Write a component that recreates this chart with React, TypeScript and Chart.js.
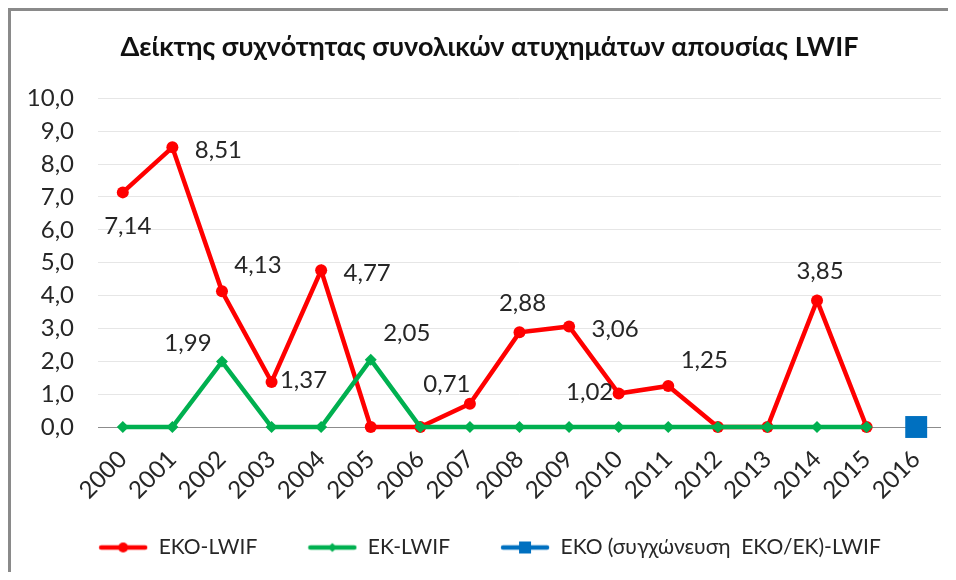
import React, { useEffect, useRef } from "react";
import { Chart, registerables } from "chart.js";

Chart.register(...registerables);

const titleText = "Δείκτης συχνότητας συνολικών ατυχημάτων απουσίας LWIF";
const years = ["2000", "2001", "2002", "2003", "2004", "2005", "2006", "2007", "2008", "2009", "2010", "2011", "2012", "2013", "2014", "2015", "2016"];
const ekoLwif = [7.14, 8.51, 4.13, 1.37, 4.77, 0, 0, 0.71, 2.88, 3.06, 1.02, 1.25, 0, 0, 3.85, 0, null];
const ekLwif = [0, 0, 1.99, 0, 0, 2.05, 0, 0, 0, 0, 0, 0, 0, 0, 0, 0, null];
const ekoMergedLwif = [null, null, null, null, null, null, null, null, null, null, null, null, null, null, null, null, 0];
const seriesNames = ["ΕΚΟ-LWIF", "ΕΚ-LWIF", "ΕΚΟ (συγχώνευση  ΕΚΟ/ΕΚ)-LWIF"];
const yTicks = [0, 1, 2, 3, 4, 5, 6, 7, 8, 9, 10];

// label placement presets per point (null = no label)
const redLabelPos = ["below", "right", "upRight", "nearRight", "right", null, null, "upLeft", "up", "right", "left", "upRight", null, null, "up", null, null];
const greenLabelPos = [null, null, "upLeftFar", null, null, "upRight", null, null, null, null, null, null, null, null, null, null, null];

const placeOffsets: Record<string, [number, number]> = {
  below: [5, 34],
  right: [46, 3],
  nearRight: [32, -2],
  upRight: [36, -26],
  upLeft: [-23, -19],
  upLeftFar: [-34, -18],
  up: [3, -29],
  left: [-29, -1],
};

const RED = "#FF0000";
const GREEN = "#00B050";
const BLUE = "#0070C0";
const FONT = "Lato";
const TEXT = "#262626";

function makeLegendIcon(color: string, kind: string): HTMLCanvasElement {
  const c = document.createElement("canvas");
  c.width = 50;
  c.height = 18;
  const ctx = c.getContext("2d")!;
  ctx.strokeStyle = color;
  ctx.fillStyle = color;
  ctx.lineWidth = 4.5;
  ctx.lineCap = "round";
  ctx.beginPath();
  ctx.moveTo(3, 9);
  ctx.lineTo(47, 9);
  ctx.stroke();
  ctx.beginPath();
  if (kind === "circle") {
    ctx.arc(25, 9, 5, 0, Math.PI * 2);
  } else if (kind === "diamond") {
    ctx.moveTo(25, 4.5);
    ctx.lineTo(29.5, 9);
    ctx.lineTo(25, 13.5);
    ctx.lineTo(20.5, 9);
    ctx.closePath();
  } else {
    ctx.rect(19, 3, 12, 12);
  }
  ctx.fill();
  return c;
}

const fmt = (v: number) => v.toFixed(2).replace(".", ",");

const labelPlugin = {
  id: "pointLabels",
  afterDatasetsDraw(chart: any) {
    const ctx = chart.ctx;
    const placements = [redLabelPos, greenLabelPos];
    ctx.save();
    ctx.font = `24px ${FONT}`;
    ctx.fillStyle = TEXT;
    ctx.textAlign = "center";
    ctx.textBaseline = "middle";
    placements.forEach((pos, di) => {
      const meta = chart.getDatasetMeta(di);
      const data = chart.data.datasets[di].data as (number | null)[];
      meta.data.forEach((pt: any, i: number) => {
        const p = pos[i];
        const v = data[i];
        if (!p || v === null || v === undefined) return;
        const [dx, dy] = placeOffsets[p];
        ctx.fillText(fmt(v), pt.x + dx, pt.y + dy);
      });
    });
    ctx.restore();
  },
};

export default function App() {
  const ref = useRef<HTMLCanvasElement | null>(null);

  useEffect(() => {
    if (!ref.current) return;
    const icons = [
      makeLegendIcon(RED, "circle"),
      makeLegendIcon(GREEN, "diamond"),
      makeLegendIcon(BLUE, "square"),
    ];
    const chart = new Chart(ref.current, {
      type: "line",
      data: {
        labels: years,
        datasets: [
          {
            label: seriesNames[0],
            data: ekoLwif,
            borderColor: RED,
            backgroundColor: RED,
            borderWidth: 4.5,
            pointStyle: "circle",
            pointRadius: 6,
            pointBorderWidth: 0,
            pointBackgroundColor: RED,
            tension: 0,
            clip: false,
            order: 2,
          },
          {
            label: seriesNames[1],
            data: ekLwif,
            borderColor: GREEN,
            backgroundColor: GREEN,
            borderWidth: 4.5,
            pointStyle: "rectRot",
            pointRadius: 6,
            pointBorderWidth: 0,
            pointBackgroundColor: GREEN,
            tension: 0,
            clip: false,
            order: 1,
          },
          {
            label: seriesNames[2],
            data: ekoMergedLwif,
            borderColor: BLUE,
            backgroundColor: BLUE,
            borderWidth: 4.5,
            pointStyle: "rect",
            pointRadius: 15.5,
            pointBorderWidth: 0,
            pointBackgroundColor: BLUE,
            tension: 0,
            clip: false,
            order: 0,
          },
        ] as any,
      },
      options: {
        animation: false,
        responsive: false,
        maintainAspectRatio: false,
        layout: { autoPadding: false, padding: { left: 27, right: 7, top: 0, bottom: 4 } },
        plugins: {
          title: {
            display: true,
            text: titleText,
            color: "#111111",
            font: { family: FONT, size: 27, weight: "bold" },
            padding: { top: 20, bottom: 35 },
          },
          legend: {
            display: true,
            position: "bottom",
            labels: {
              usePointStyle: true,
              pointStyleWidth: 50,
              padding: 50,
              color: TEXT,
              font: { family: FONT, size: 21 },
              generateLabels: (ch: any) =>
                ch.data.datasets.map((ds: any, i: number) => ({
                  text: ds.label,
                  pointStyle: icons[i],
                  fillStyle: ds.borderColor,
                  strokeStyle: ds.borderColor,
                  lineWidth: 0,
                  hidden: false,
                  datasetIndex: i,
                  fontColor: TEXT,
                })),
            },
          },
          tooltip: { enabled: false },
        },
        scales: {
          x: {
            offset: true,
            grid: { display: false, drawTicks: false, offset: true },
            border: { display: false },
            ticks: {
              minRotation: 45,
              maxRotation: 45,
              autoSkip: false,
              padding: 18,
              color: TEXT,
              font: { family: FONT, size: 24 },
            },
            afterFit: (scale: any) => {
              scale.height = 60;
              scale.paddingLeft = 0;
              scale.paddingRight = 0;
              scale._computeLabelArea = () => undefined;
            },
          },
          y: {
            min: 0,
            max: 10,
            afterBuildTicks: (scale: any) => {
              scale.ticks = yTicks.map((v) => ({ value: v }));
            },
            grid: {
              drawTicks: false,
              color: (c: any) => (c.tick && c.tick.value === 0 ? "#8c8c8c" : "#e6e6e6"),
              lineWidth: 1,
            },
            border: { display: false },
            ticks: {
              autoSkip: false,
              padding: 24,
              color: TEXT,
              font: { family: FONT, size: 24 },
              callback: (v: any) => Number(v).toFixed(1).replace(".", ","),
            },
            afterFit: (scale: any) => {
              scale.width = 60;
              scale.paddingTop = 0;
              scale.paddingBottom = 0;
              scale._computeLabelArea = () => undefined;
            },
          },
        },
      },
      plugins: [labelPlugin],
    });
    return () => chart.destroy();
  }, []);

  return (
    <>
      <style>{"html,body{overflow:hidden}"}</style>
      <div
        style={{
          width: 948,
          height: 564,
          boxSizing: "border-box",
          borderLeft: "3px solid #8a8a8a",
          borderTop: "3px solid #8a8a8a",
          background: "#fff",
        }}
      >
        <canvas ref={ref} width={937} height={561} style={{ display: "block", width: 937, height: 561 }} />
      </div>
    </>
  );
}
